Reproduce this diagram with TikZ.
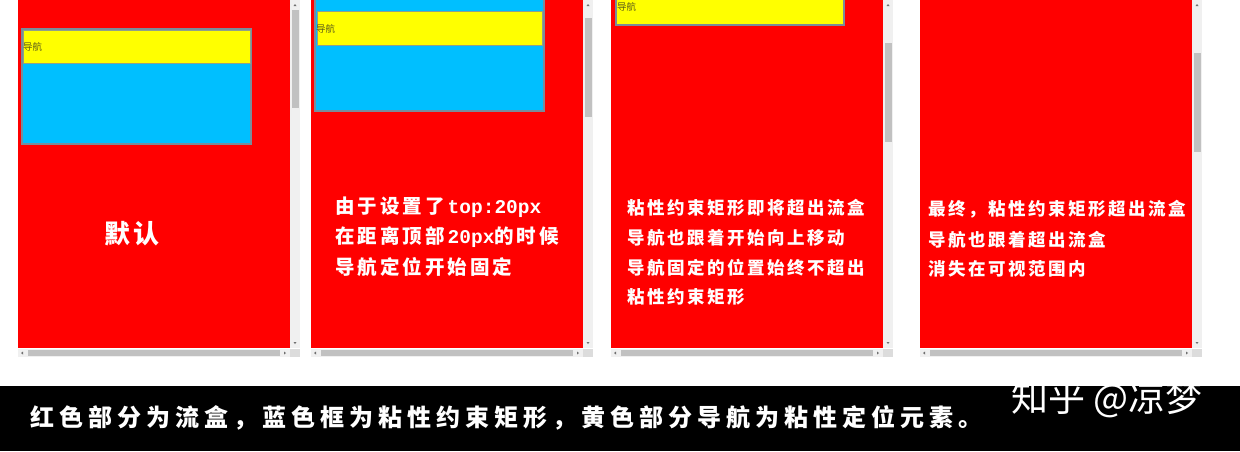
\documentclass[tikz,border=0pt]{standalone}
\usepackage{fontspec}
\newfontfamily\cjkPlain{Noto Sans CJK SC}
\newfontfamily\monoB{Liberation Mono}
\definecolor{pred}{HTML}{FF0000}
\definecolor{pblue}{HTML}{00BFFF}
\definecolor{pyel}{HTML}{FFFF00}
\definecolor{pedge}{HTML}{7A8C9A}
\definecolor{yedge}{HTML}{8FA08A}
\definecolor{strack}{HTML}{F0F0F0}
\definecolor{sthumb}{HTML}{C1C1C1}
\definecolor{scorner}{HTML}{DCDCDC}
\definecolor{sarrow}{HTML}{707070}
\definecolor{navtxt}{HTML}{5C5C1A}
\ExplSyntaxOn
\NewDocumentCommand\gridtext{mm}{\tl_map_inline:nn {#2}{\makebox[#1][l]{##1}}}
\ExplSyntaxOff
\newcommand\drawpanel[3]{%
  \fill[pred] (#1,0) rectangle (#1+272,348);
  \fill[strack] (#1+272,0) rectangle (#1+282,348);
  \fill[sthumb] (#1+274,#2) rectangle (#1+281,#3);
  \fill[sarrow] (#1+275.5,6) -- (#1+278.5,6) -- (#1+277,4) -- cycle;
  \fill[sarrow] (#1+275.5,342) -- (#1+278.5,342) -- (#1+277,344) -- cycle;
  \fill[strack] (#1,349) rectangle (#1+282,357);
  \fill[sthumb] (#1+10,350) rectangle (#1+262,356);
  \fill[sarrow] (#1+5,351.5) -- (#1+5,354.5) -- (#1+3,353) -- cycle;
  \fill[sarrow] (#1+266,351.5) -- (#1+266,354.5) -- (#1+268,353) -- cycle;
  \fill[scorner] (#1+272,349) rectangle (#1+282,357);
}
\tikzset{
  navlabel/.style={anchor=west, inner sep=0pt, text=navtxt, font=\cjkPlain\fontsize{9.5}{10}\selectfont},
  paneltwo/.style={anchor=west, inner sep=0pt, text=white, font=\cjkPlain\bfseries\fontsize{19.5}{20}\selectfont},
  panelthree/.style={anchor=west, inner sep=0pt, text=white, font=\cjkPlain\bfseries\fontsize{17.5}{18}\selectfont},
  stickybox/.style={fill=pblue, draw=pedge, line width=1.3pt},
  navbox/.style={fill=pyel, draw=yedge, line width=1pt},
}
\newcommand\monotxt[1]{{\monoB\bfseries\fontsize{19.5}{20}\selectfont #1}}
\begin{document}
\begin{tikzpicture}[x=1pt,y=-1pt]
\useasboundingbox (0,0) rectangle (1240,451);
\fill[white] (0,0) rectangle (1240,451);
% panels
\drawpanel{18}{10}{108}
\drawpanel{311}{18}{117}
\drawpanel{611}{43}{142}
\drawpanel{920}{53}{152}
% panel 1 sticky box
\draw[stickybox] (22,29) rectangle (251,144);
\draw[navbox] (23,30) rectangle (250,63.5);
\node[navlabel] (nav1) at (23,47) {导航};
% panel 2
\draw[stickybox] (315,-3) rectangle (544,111);
\draw[navbox] (317,11) rectangle (542,45);
\node[navlabel] (nav2) at (316,29) {导航};
% panel 3
\draw[navbox, draw=pedge, line width=1.5pt] (616,-3) rectangle (844,25);
\node[navlabel] (nav3) at (617,7) {导航};
% texts
\node[anchor=west, inner sep=0pt, text=white, font=\cjkPlain\bfseries\fontsize{26}{26}\selectfont] (t1) at (104,234) {\gridtext{29pt}{默认}};
\node[paneltwo] (t2a) at (335,207) {\gridtext{22.5pt}{由于设置了}\monotxt{top:20px}};
\node[paneltwo] (t2b) at (335,237) {\gridtext{22.5pt}{在距离顶部}\monotxt{20px}\gridtext{22.5pt}{的时候}};
\node[paneltwo] (t2c) at (335,267) {\gridtext{22.5pt}{导航定位开始固定}};
\node[panelthree] (t3a) at (627,208) {\gridtext{20pt}{粘性约束矩形即将超出流盒}};
\node[panelthree] (t3b) at (627,238) {\gridtext{20pt}{导航也跟着开始向上移动}};
\node[panelthree] (t3c) at (627,268) {\gridtext{20pt}{导航固定的位置始终不超出}};
\node[panelthree] (t3d) at (627,297) {\gridtext{20pt}{粘性约束矩形}};
\node[panelthree] (t4a) at (928,209) {\gridtext{20pt}{最终，粘性约束矩形超出流盒}};
\node[panelthree] (t4b) at (928,240) {\gridtext{20pt}{导航也跟着超出流盒}};
\node[panelthree] (t4c) at (928,269) {\gridtext{20pt}{消失在可视范围内}};
% bottom bar
\fill[black] (0,386) rectangle (1240,451);
\node[anchor=west, inner sep=0pt, text=white, font=\cjkPlain\bfseries\fontsize{24}{24}\selectfont] (cap) at (30,418) {\gridtext{29pt}{红色部分为流盒，蓝色框为粘性约束矩形，黄色部分导航为粘性定位元素。}};
\node[anchor=west, inner sep=0pt, text=white, font=\cjkPlain\fontsize{37}{37}\selectfont] (wm) at (1011,399) {知乎 @凉梦};
\end{tikzpicture}
\end{document}
